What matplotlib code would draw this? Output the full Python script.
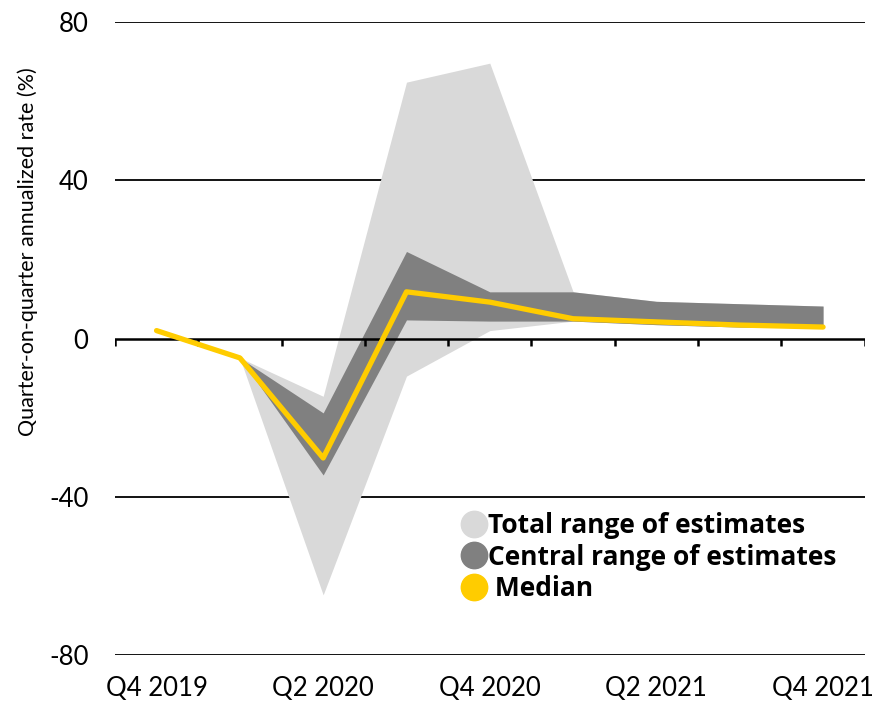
import numpy as np
import matplotlib.pyplot as plt
from matplotlib.lines import Line2D

quarters = ["Q4 2019", "Q1 2020", "Q2 2020", "Q3 2020", "Q4 2020",
            "Q1 2021", "Q2 2021", "Q3 2021", "Q4 2021"]
median = [2.0, -4.9, -30.2, 11.8, 9.2, 5.0, 4.2, 3.4, 2.9]
total_low = [np.nan, -4.9, -64.8, -9.5, 2.0, 4.4, 3.5, 2.9, 2.7]
total_high = [np.nan, -4.9, -14.6, 64.8, 69.6, 11.8, 9.4, 8.8, 8.2]
central_low = [np.nan, -4.9, -34.5, 4.7, 4.4, 4.4, 3.5, 2.9, 2.7]
central_high = [np.nan, -4.9, -18.8, 22.0, 11.8, 11.8, 9.4, 8.8, 8.2]
yticks = [-80, -40, 0, 40, 80]
labels = ["Total range of estimates", "Central range of estimates", " Median"]

LIGHT = "#d9d9d9"
DARK = "#808080"
YELLOW = "#ffcc00"

plt.rcParams['font.family'] = ['Lato', 'DejaVu Sans']

fig = plt.figure(figsize=(8.77, 7.01), dpi=100)
ax = fig.add_axes([0.131, 0.0656, 0.855, 0.903])

x = np.arange(len(quarters))
ax.fill_between(x, total_low, total_high, color=LIGHT, lw=0, zorder=1)
ax.fill_between(x, central_low, central_high, color=DARK, lw=0, zorder=1.5)
ax.plot(x, median, color=YELLOW, lw=3.8, solid_capstyle='round', zorder=3)

# gridlines, zero line with ticks at quarter boundaries
for v in yticks:
    if v != 0:
        ax.axhline(v, color="black", lw=1.3, zorder=0)
ax.axhline(0, color="black", lw=1.8, zorder=2)
ax.vlines(np.arange(len(quarters) + 1) - 0.5, -2.0, 0, color="black", lw=1.8, zorder=2)

ax.set_xlim(-0.5, len(quarters) - 0.5)
ax.set_ylim(-80, 80)
ax.set_yticks(yticks)
ax.set_yticklabels([str(v) for v in yticks])
ax.set_xticks(x[::2])
ax.set_xticklabels(quarters[::2])
ax.tick_params(axis='y', length=0, pad=19, labelsize=18.5)
ax.tick_params(axis='x', length=0, pad=15, labelsize=18.5)
for s in ax.spines.values():
    s.set_visible(False)

ax.set_ylabel("Quarter-on-quarter annualized rate (%)", fontsize=15.5)
ax.yaxis.set_label_coords(-0.103, 0.637)

handles = [Line2D([], [], ls='', marker='o', ms=19, color=c) for c in (LIGHT, DARK, YELLOW)]
ax.legend(handles, labels, loc='upper left', bbox_to_anchor=(0.4435, 0.246),
          frameon=False, borderpad=0, handletextpad=0.05, labelspacing=0.16,
          handlelength=1.0,
          prop={'family': ['Open Sans', 'DejaVu Sans'], 'weight': 'bold', 'size': 19})

fig.savefig("out.png", dpi=100)
